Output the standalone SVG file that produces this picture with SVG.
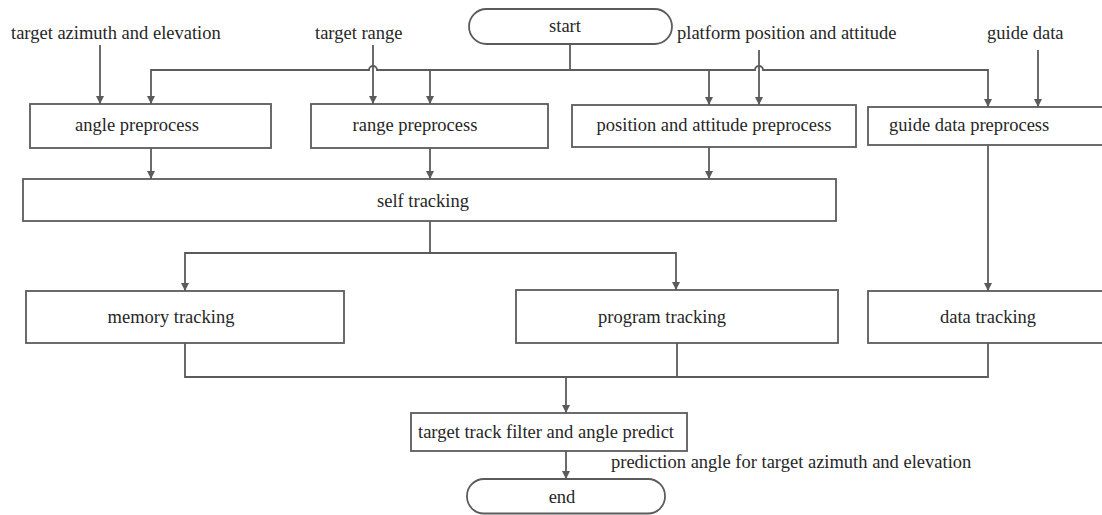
<svg xmlns="http://www.w3.org/2000/svg" width="1102" height="515" viewBox="0 0 1102 515">
<style>
  .box{fill:#fff;stroke:#5b5b5b;stroke-width:1.8}
  .ln{fill:none;stroke:#5b5b5b;stroke-width:1.8}
  .t{font-family:"Liberation Serif","Times New Roman",serif;font-size:18.5px;fill:#262626}
  .c{text-anchor:middle}
</style>
<defs>
  <marker id="ah" viewBox="0 0 10 10" refX="10" refY="5" markerWidth="8" markerHeight="8" markerUnits="userSpaceOnUse" orient="auto">
    <path d="M0,0 L10,5 L0,10 z" fill="#5b5b5b"/>
  </marker>
</defs>
<rect width="1102" height="515" fill="#fff"/>

<g id="inputs">
  <text class="t" x="11" y="39">target azimuth and elevation</text>
  <text class="t" x="315" y="39">target range</text>
  <text class="t" x="677" y="39">platform position and attitude</text>
  <text class="t" x="987" y="39">guide data</text>
</g>

<g id="connectors">
  <path class="ln" d="M570,44 V70"/>
  <path class="ln" d="M570,70 H377 A4,4 0 0 0 369,70 H151 V104" marker-end="url(#ah)"/>
  <path class="ln" d="M430,70 V104" marker-end="url(#ah)"/>
  <path class="ln" d="M570,70 H755 A4,4 0 0 1 763,70 H988 V107" marker-end="url(#ah)"/>
  <path class="ln" d="M709,70 V105" marker-end="url(#ah)"/>
  <path class="ln" d="M100,45 V104" marker-end="url(#ah)"/>
  <path class="ln" d="M373,45 V104" marker-end="url(#ah)"/>
  <path class="ln" d="M759,50 V105" marker-end="url(#ah)"/>
  <path class="ln" d="M1038,50 V107" marker-end="url(#ah)"/>
  <path class="ln" d="M151,148 V179" marker-end="url(#ah)"/>
  <path class="ln" d="M430,148 V179" marker-end="url(#ah)"/>
  <path class="ln" d="M709,147 V179" marker-end="url(#ah)"/>
  <path class="ln" d="M430,221 V253 H185 V291" marker-end="url(#ah)"/>
  <path class="ln" d="M430,253 H676 V290" marker-end="url(#ah)"/>
  <path class="ln" d="M988,145 V291" marker-end="url(#ah)"/>
  <path class="ln" d="M185,343 V377 H988 V343"/>
  <path class="ln" d="M677,343 V377"/>
  <path class="ln" d="M566,377 V413" marker-end="url(#ah)"/>
  <path class="ln" d="M566,451 V479" marker-end="url(#ah)"/>
  <text class="t" x="611" y="468">prediction angle for target azimuth and elevation</text>
</g>

<g id="start">
  <rect class="box" x="469" y="9" width="203" height="35" rx="17.5" ry="17.5"/>
  <text class="t c" x="565" y="32">start</text>
</g>
<g id="angle-preprocess">
  <rect class="box" x="30" y="104" width="241" height="44"/>
  <text class="t c" x="137" y="131">angle preprocess</text>
</g>
<g id="range-preprocess">
  <rect class="box" x="311" y="104" width="237" height="44"/>
  <text class="t c" x="415" y="131">range preprocess</text>
</g>
<g id="position-preprocess">
  <rect class="box" x="572" y="105" width="284" height="42"/>
  <text class="t c" x="714" y="131">position and attitude preprocess</text>
</g>
<g id="guide-preprocess">
  <rect class="box" x="868" y="107" width="240" height="38"/>
  <text class="t" x="889" y="131">guide data preprocess</text>
</g>
<g id="self-tracking">
  <rect class="box" x="23" y="179" width="813" height="42"/>
  <text class="t c" x="423" y="207">self tracking</text>
</g>
<g id="memory-tracking">
  <rect class="box" x="26" y="291" width="318" height="52"/>
  <text class="t c" x="171" y="323">memory tracking</text>
</g>
<g id="program-tracking">
  <rect class="box" x="516" y="290" width="322" height="53"/>
  <text class="t c" x="662" y="323">program tracking</text>
</g>
<g id="data-tracking">
  <rect class="box" x="868" y="291" width="240" height="52"/>
  <text class="t c" x="988" y="323">data tracking</text>
</g>
<g id="filter">
  <rect class="box" x="411" y="413" width="276" height="38"/>
  <text class="t c" x="546" y="438">target track filter and angle predict</text>
</g>
<g id="end">
  <rect class="box" x="467" y="479" width="198" height="34.5" rx="17" ry="17"/>
  <text class="t c" x="562" y="503">end</text>
</g>
</svg>
